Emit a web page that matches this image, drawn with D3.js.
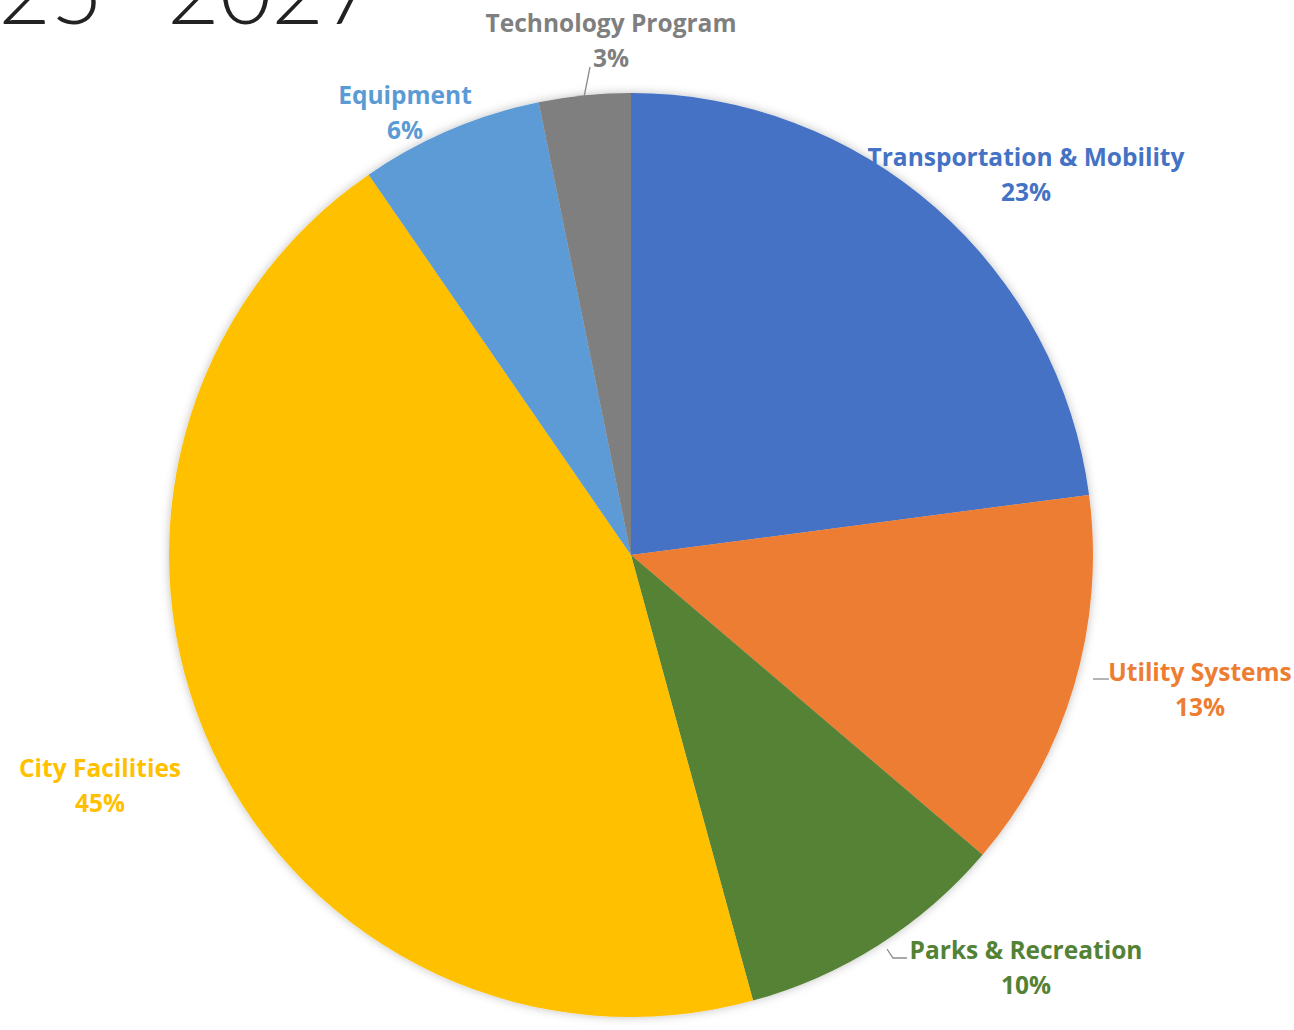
<!DOCTYPE html>
<html><head><meta charset="utf-8">
<script src="https://cdn.jsdelivr.net/npm/d3@7"></script>
<style>html,body{margin:0;padding:0;background:#fff;overflow:hidden}</style>
</head><body>
<svg id="chart" width="1294" height="1030"></svg>
<script>
const categories = ["Transportation & Mobility","Utility Systems","Parks & Recreation","City Facilities","Equipment","Technology Program"];
const values = [22.9, 13.3, 9.5, 44.6, 6.4, 3.2];
const colors = ["#4472C4","#ED7D31","#548235","#FFC000","#5B9BD5","#7F7F7F"];
const labelColors = ["#4472C4","#ED7D31","#548235","#FFC000","#5B9BD5","#7F7F7F"];
const titleParts = ["2025", "–", "2027"];

// layout (not data)
const cx = 631, cy = 555, R = 462;
const labelPos = [[1026,157],[1200,672],[1026,950],[100,768],[405,95],[611,23]];
const leaders = [null, [[1093,679],[1109,679]], [[887,949],[893,958],[907,958]], null, null, [[584,97],[590,67]]];

const svg = d3.select("#chart");
const defs = svg.append("defs");
const f = defs.append("filter").attr("id","sh").attr("x","-10%").attr("y","-10%").attr("width","120%").attr("height","120%");
f.append("feDropShadow").attr("dx",0).attr("dy",0).attr("stdDeviation",5).attr("flood-color","#000").attr("flood-opacity",0.25);

const title = svg.append("text").attr("x",376).attr("y",24).attr("text-anchor","end")
  .attr("font-family","Lato, 'Open Sans', sans-serif").attr("font-weight",300)
  .attr("font-size",90).attr("fill","#222");
title.append("tspan").text(titleParts[0]);
title.append("tspan").attr("dy",-9).attr("dx",6).text(titleParts[1]);
title.append("tspan").attr("dy",9).attr("dx",6).text(titleParts[2]);

const total = d3.sum(values);
const data = categories.map((c,i)=>({name:c, value:values[i], i}));
const pie = d3.pie().value(d=>d.value).sort(null);
const arc = d3.arc().innerRadius(0).outerRadius(R);
const g = svg.append("g").attr("transform",`translate(${cx},${cy})`);
const gp = g.append("g").attr("filter","url(#sh)");
gp.selectAll("path").data(pie(data)).join("path")
  .attr("d",arc).attr("fill",d=>colors[d.data.i]);

const line = d3.line();
leaders.forEach(l=>{ if(l) svg.append("path").attr("d",line(l)).attr("fill","none").attr("stroke","#8c8c8c").attr("stroke-width",1.3); });

data.forEach((d,i)=>{
  const [x,y] = labelPos[i];
  const t = svg.append("text").attr("x",x).attr("y",y).attr("text-anchor","middle")
    .attr("font-family","'Open Sans', Lato, sans-serif").attr("font-weight",700)
    .attr("font-size",24.5).attr("fill",labelColors[i]);
  t.append("tspan").attr("x",x).attr("dy","0.35em").text(d.name);
  t.append("tspan").attr("x",x).attr("dy",35).text(Math.round(d.value/total*100)+"%");
});
</script>
</body></html>
